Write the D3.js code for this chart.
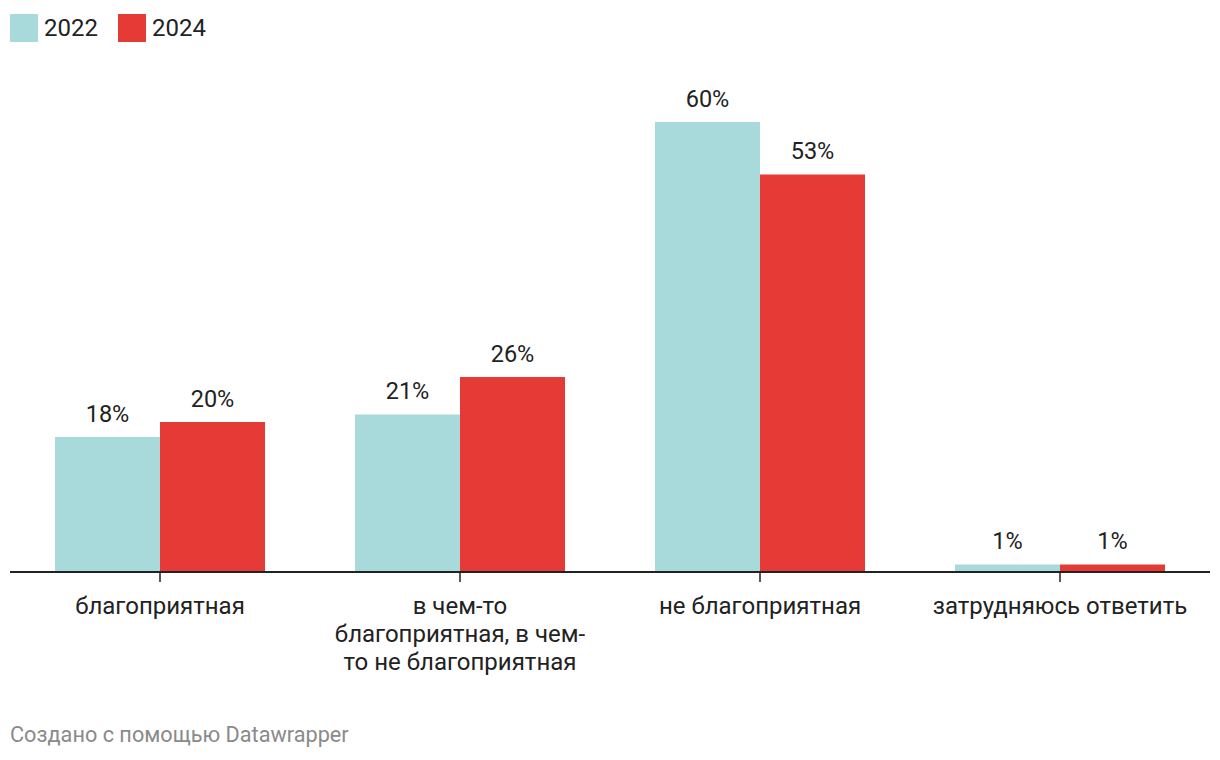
<!DOCTYPE html>
<html>
<head>
<meta charset="utf-8">
<script src="https://cdn.jsdelivr.net/npm/d3@7"></script>
<style>
  body { margin: 0; background: #fff; font-family: Roboto, sans-serif; }
</style>
</head>
<body>
<svg class="chart" width="1220" height="760"></svg>
<script>
const categories = [
    ["благоприятная"],
    ["в чем-то", "благоприятная, в чем-", "то не благоприятная"],
    ["не благоприятная"],
    ["затрудняюсь ответить"]
];
const years = ["2022", "2024"];
const values2022 = [18, 21, 60, 1];
const values2024 = [20, 26, 53, 1];
const colors = ["#a8dadc", "#e63a37"];

const svg = d3.select(".chart");
const margin = { left: 10, right: 10, top: 60, bottom: 188 };
const width = 1220, height = 760;
const baseline = height - margin.bottom;

const x0 = d3.scaleBand()
    .domain(d3.range(categories.length))
    .range([margin.left, width - margin.right])
    .paddingInner(0.3)
    .paddingOuter(0.15);
const x1 = d3.scaleBand().domain(years).range([0, x0.bandwidth()]);
const y = d3.scaleLinear().domain([0, 60]).range([baseline, 122]);

const series = [values2022, values2024];

// legend
years.forEach((yr, i) => {
    const lx = 10 + i * 108;
    svg.append("rect").attr("x", lx).attr("y", 14).attr("width", 28).attr("height", 28).attr("fill", colors[i]);
    svg.append("text").attr("x", lx + 34).attr("y", 36).attr("font-size", 24).attr("fill", "#222").text(yr);
});

// bars and value labels
categories.forEach((c, i) => {
    years.forEach((yr, j) => {
        const v = series[j][i];
        svg.append("rect")
            .attr("x", x0(i) + x1(yr))
            .attr("y", y(v))
            .attr("width", x1.bandwidth())
            .attr("height", baseline - y(v))
            .attr("fill", colors[j]);
        svg.append("text")
            .attr("x", x0(i) + x1(yr) + x1.bandwidth() / 2)
            .attr("y", y(v) - 15.5)
            .attr("text-anchor", "middle")
            .attr("font-size", 23.5)
            .attr("fill", "#222")
            .text(v + "%");
    });
});

// axis
svg.append("line")
    .attr("x1", margin.left).attr("x2", width - margin.right)
    .attr("y1", baseline).attr("y2", baseline)
    .attr("stroke", "#222").attr("stroke-width", 2);

categories.forEach((c, i) => {
    const cx = x0(i) + x0.bandwidth() / 2;
    svg.append("line")
        .attr("x1", cx).attr("x2", cx)
        .attr("y1", baseline).attr("y2", baseline + 10)
        .attr("stroke", "#222").attr("stroke-width", 1.5);
    const t = svg.append("text")
        .attr("text-anchor", "middle")
        .attr("font-size", 24)
        .attr("fill", "#222");
    c.forEach((line, k) => {
        t.append("tspan").attr("x", cx).attr("y", baseline + 42 + k * 28).text(line);
    });
});

// footer
svg.append("text")
    .attr("x", 10).attr("y", 742)
    .attr("font-size", 21.7)
    .attr("fill", "#8a8a8a")
    .text("Создано с помощью Datawrapper");
</script>
</body>
</html>
